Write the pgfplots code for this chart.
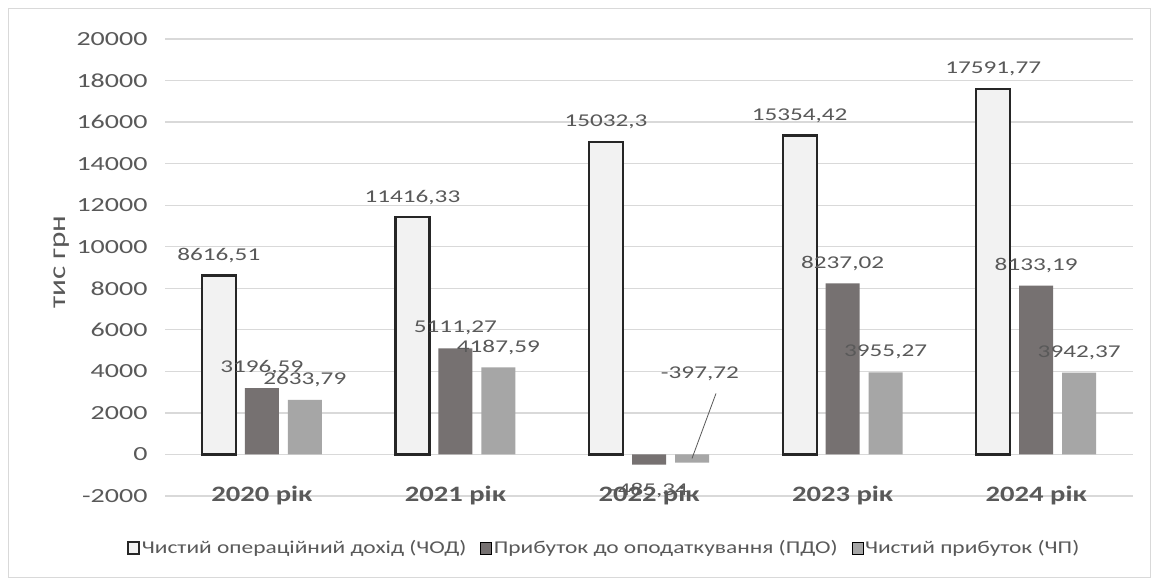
\documentclass[border=0pt]{standalone}
\usepackage{fontspec}
\setmainfont{Carlito}
\newfontfamily\numfont{Carlito}[FakeStretch=1.4]
\newfontfamily\catfont{Carlito}[FakeStretch=1.3]
\usepackage{pgfplots}
\usepackage{pgfplotstable}
\pgfplotsset{compat=1.18}
\definecolor{txt}{HTML}{595959}
\definecolor{gridc}{HTML}{D9D9D9}
\definecolor{cchod}{HTML}{F2F2F2}
\definecolor{cpdo}{HTML}{767171}
\definecolor{cchp}{HTML}{A6A6A6}

\pgfplotstableread{
x y lab
0 8616.51 8616,51
1 11416.33 11416,33
2 15032.3 15032,3
3 15354.42 15354,42
4 17591.77 17591,77
}\chod
\pgfplotstableread{
x y lab
0 3196.59 3196,59
1 5111.27 5111,27
2 -485.34 {}
3 8237.02 8237,02
4 8133.19 8133,19
}\pdo
\pgfplotstableread{
x y lab
0 2633.79 2633,79
1 4187.59 4187,59
2 -397.72 {}
3 3955.27 3955,27
4 3942.37 3942,37
}\chp

\begin{document}
\begin{tikzpicture}
\useasboundingbox (0pt,0pt) rectangle (1159pt,-582pt);
\fill[white] (0pt,0pt) rectangle (1159pt,-582pt);
\draw[gridc, line width=1pt] (8pt,-8pt) rectangle (1150pt,-577pt);
\begin{axis}[
  at={(165pt,-496pt)}, anchor=south west,
  scale only axis, width=968pt, height=457pt,
  xmin=-0.5, xmax=4.5, ymin=-2000, ymax=20000,
  ytick={-2000,0,2000,4000,6000,8000,10000,12000,14000,16000,18000,20000},
  scaled y ticks=false,
  xtick={0,1,2,3,4},
  xticklabels={2020 рік,2021 рік,2022 рік,2023 рік,2024 рік},
  ymajorgrids, grid style={gridc, line width=1.2pt},
  axis line style={draw=none},
  major tick length=0pt,
  /pgf/number format/1000 sep={},
  /pgf/number format/assume math mode=true,
  yticklabel style={font=\numfont\fontsize{20}{22}\selectfont, text=txt, anchor=east, xshift=-14pt,
    /pgf/number format/fixed, /pgf/number format/precision=0},
  xticklabel style={font=\catfont\bfseries\fontsize{22}{24}\selectfont, text=txt, anchor=center},
  ybar=9pt, bar width=34pt,
  nodes near coords,
  point meta=explicit symbolic,
  every node near coord/.append style={font=\numfont\fontsize{18}{20}\selectfont, text=txt, anchor=center, yshift=20pt},
  legend style={at={(0.4535,-0.114)}, anchor=center, draw=none, fill=none,
    legend columns=3, font=\catfont\fontsize{18}{20}\selectfont, text=txt,
    /tikz/every even column/.append style={column sep=12pt}},
  legend image code/.code={\draw[#1] (0pt,-6pt) rectangle (11pt,6pt);},
  clip=false,
]
\addplot[fill=cchod, draw=black!85, line width=2.2pt] table[x=x,y=y,meta=lab] {\chod};
\addplot[fill=cpdo, draw=none] table[x=x,y=y,meta=lab] {\pdo};
\addplot[fill=cchp, draw=none] table[x=x,y=y,meta=lab] {\chp};
\legend{Чистий операційний дохід (ЧОД),Прибуток до оподаткування (ПДО),Чистий прибуток (ЧП)}
\node[font=\numfont\fontsize{18}{20}\selectfont, text=txt] at (axis cs:2,-485.34) [yshift=-26pt] {-485,34};
\node[font=\numfont\fontsize{18}{20}\selectfont, text=txt] at (axis cs:2.263,3900) {-397,72};
\draw[txt, line width=0.8pt] (axis cs:2.346,2937) -- (axis cs:2.222,-193);
\end{axis}
\node[rotate=90, font=\catfont\fontsize{24}{26}\selectfont, text=txt] at (62pt,-262pt) {тис грн};
\end{tikzpicture}
\end{document}
